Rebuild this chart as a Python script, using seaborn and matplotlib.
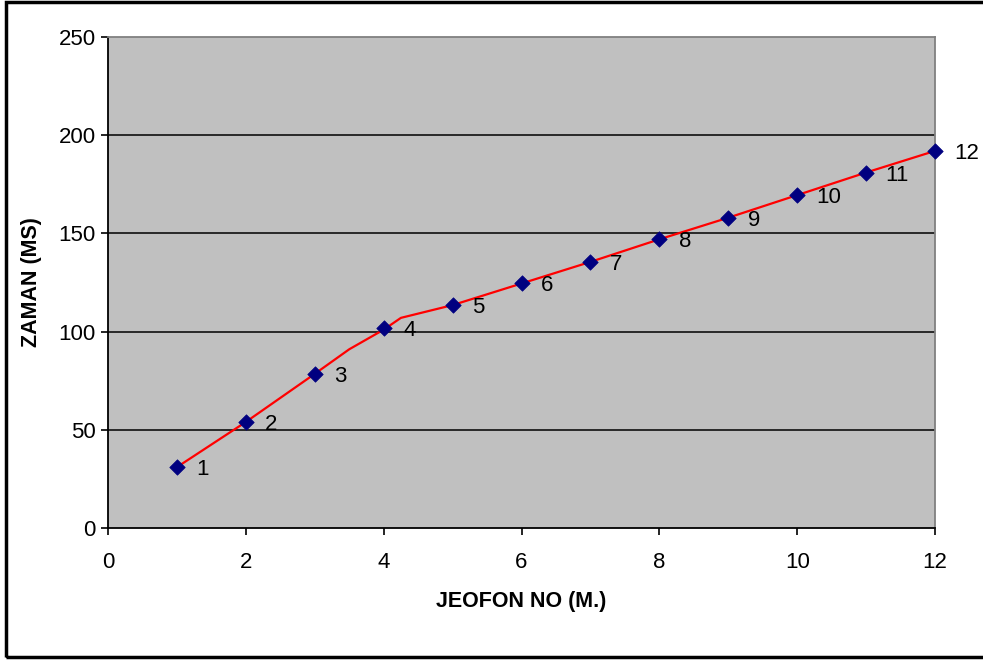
import matplotlib
matplotlib.use("Agg")
import matplotlib.pyplot as plt
import matplotlib.patches as mpatches
import seaborn as sns
import pandas as pd

# jeofon numbers and first-arrival times (ms)
jeofon = [1, 2, 3, 4, 5, 6, 7, 8, 9, 10, 11, 12]
zaman = [31, 54, 78.5, 102, 113.5, 124.5, 135.5, 147, 158, 169.5, 181, 192]

# red trend line vertices
trend_x = [1, 2, 3, 3.5, 4, 4.25, 5, 6, 7, 8, 9, 10, 11, 12]
trend_y = [31, 54, 78.5, 91, 101, 107, 113.5, 124.5, 135.5, 147, 158, 169.5, 181, 192]

yticks = [0, 50, 100, 150, 200, 250]
xticks = [0, 2, 4, 6, 8, 10, 12]

sns.set_style("white")
plt.rcParams['font.family'] = ['Liberation Sans', 'DejaVu Sans']
plt.rcParams['text.color'] = 'black'
plt.rcParams['axes.labelcolor'] = 'black'

fig = plt.figure(figsize=(9.83, 6.63), dpi=100)
ax = fig.add_axes([0.1099, 0.2036, 0.8413, 0.7406])
ax.set_facecolor('#C0C0C0')

df_pts = pd.DataFrame({"x": jeofon, "y": zaman})
df_fit = pd.DataFrame({"x": trend_x, "y": trend_y})

for g in [50, 100, 150, 200]:
    ax.axhline(g, color='black', lw=1.1, zorder=1)

sns.lineplot(data=df_fit, x="x", y="y", color='#FF0000', lw=1.6, sort=False, ax=ax, zorder=2)
sns.scatterplot(data=df_pts, x="x", y="y", marker='D', s=62, color='#000080',
                edgecolor='#000080', linewidth=0.5, ax=ax, zorder=3, clip_on=False)

for xv, yv in zip(jeofon, zaman):
    ax.annotate(str(xv), (xv, yv), xytext=(14, 0), textcoords='offset points',
                ha='left', va='center_baseline', fontsize=16, color='black',
                annotation_clip=False)

ax.set_xlim(0, 12)
ax.set_ylim(0, 250)
ax.set_xticks(xticks)
ax.set_yticks(yticks)
ax.tick_params(axis='both', direction='out', length=5, width=1.2, colors='black',
               labelsize=16, labelcolor='black')
ax.tick_params(axis='x', pad=12, bottom=True)
ax.tick_params(axis='y', pad=4, left=True)

for s in ['left', 'bottom']:
    ax.spines[s].set_color('black')
    ax.spines[s].set_linewidth(1.3)
for s in ['top', 'right']:
    ax.spines[s].set_color('#808080')
    ax.spines[s].set_linewidth(1.3)

ax.set_xlabel("JEOFON NO (M.)", fontsize=15.5, fontweight='bold', color='black')
ax.set_ylabel("ZAMAN (MS)", fontsize=15.5, fontweight='bold', color='black')
ax.xaxis.set_label_coords(0.5, -0.128)
ax.yaxis.set_label_coords(-0.080, 0.5)

# outer chart border
frame = mpatches.Rectangle((0.0065, 0.009), 1.1, 0.988, transform=fig.transFigure,
                           fill=False, edgecolor='black', lw=2.5)
fig.patches.append(frame)

fig.savefig("out.png", dpi=100)
